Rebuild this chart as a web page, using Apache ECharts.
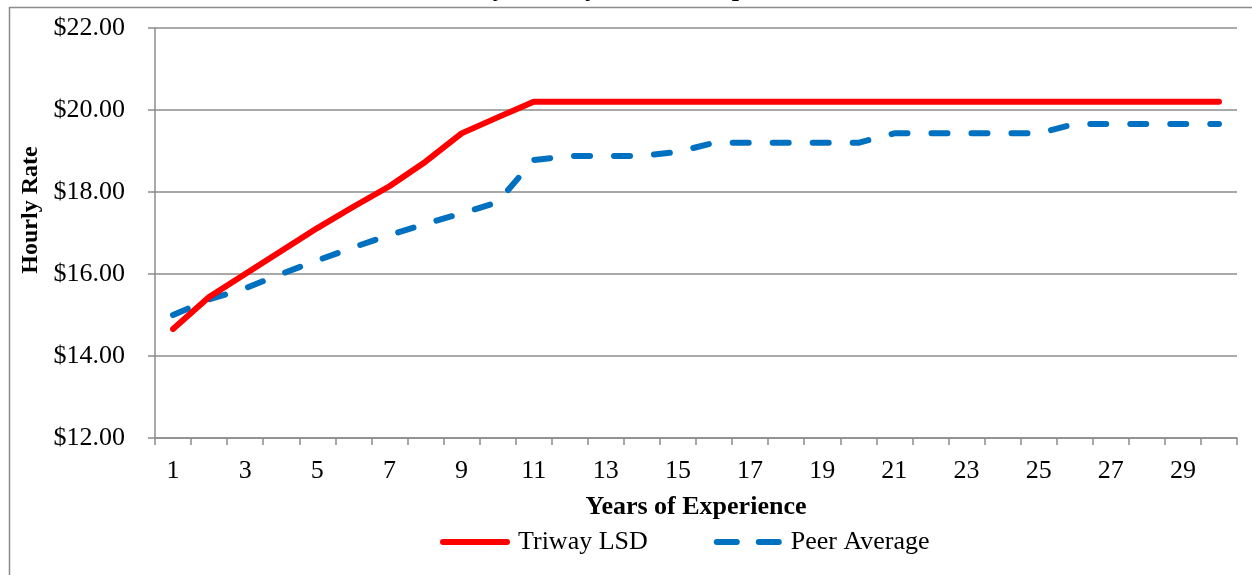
<!DOCTYPE html>
<html>
<head>
<meta charset="utf-8">
<script src="https://cdn.jsdelivr.net/npm/echarts@6/dist/echarts.min.js"></script>
<style>
html,body{margin:0;padding:0;background:#fff;}
#chart{width:1252px;height:575px;}
</style>
</head>
<body>
<div id="chart"></div>
<script>
var titleText = 'Hourly Rate by Years of Experience';
var years = ['1','2','3','4','5','6','7','8','9','10','11','12','13','14','15','16','17','18','19','20','21','22','23','24','25','26','27','28','29','30'];
var triwayLSD = [14.66,15.44,16.00,16.56,17.12,17.64,18.14,18.74,19.43,19.82,20.20,20.20,20.20,20.20,20.20,20.20,20.20,20.20,20.20,20.20,20.20,20.20,20.20,20.20,20.20,20.20,20.20,20.20,20.20,20.20];
var peerAverage = [15.00,15.38,15.65,16.00,16.33,16.65,16.95,17.22,17.48,17.75,18.78,18.88,18.88,18.88,18.98,19.20,19.20,19.20,19.20,19.20,19.43,19.43,19.43,19.43,19.43,19.66,19.66,19.66,19.66,19.66];
var yMin = 12, yMax = 22, yStep = 2;

var FONT = '"Liberation Serif", "Times New Roman", serif';
var GRAY = '#8c8c8c';
var chart = echarts.init(document.getElementById('chart'));
chart.setOption({
  animation: false,
  backgroundColor: '#fff',
  title: {
    text: titleText,
    left: 'center',
    top: -29,
    textStyle: {fontFamily: FONT, fontSize: 26, fontWeight: 'bold', color: '#000'}
  },
  graphic: [{
    type: 'rect',
    left: 7, top: 5, z: 100,
    shape: {width: 1300, height: 620},
    style: {fill: 'none', stroke: GRAY, lineWidth: 1.5}
  }],
  grid: {left: 155, right: 15, top: 28, bottom: 137, containLabel: false},
  legend: {
    left: 435, top: 524,
    itemWidth: 70, itemHeight: 6, itemGap: 66,
    textStyle: {fontFamily: FONT, fontSize: 26, color: '#000', padding: [0, 0, 0, 3]},
    data: [
      {name: 'Triway LSD', icon: 'path://M3,0h64a3,3 0 0 1 0,6h-64a3,3 0 0 1 0,-6z'},
      {name: 'Peer Average', icon: 'path://M3,0h20a3,3 0 0 1 0,6h-20a3,3 0 0 1 0,-6z M45,0h20a3,3 0 0 1 0,6h-20a3,3 0 0 1 0,-6z'}
    ]
  },
  xAxis: {
    type: 'category',
    data: years,
    boundaryGap: true,
    name: 'Years of Experience',
    nameLocation: 'middle',
    nameGap: 56,
    nameTextStyle: {fontFamily: FONT, fontSize: 26, fontWeight: 'bold', color: '#000'},
    axisLine: {lineStyle: {color: GRAY, width: 1.5}},
    axisTick: {show: true, interval: 0, length: 7, inside: false, lineStyle: {color: GRAY, width: 1.5}},
    axisLabel: {interval: 1, margin: 20, fontFamily: FONT, fontSize: 26, color: '#000'},
    splitLine: {show: false}
  },
  yAxis: {
    type: 'value',
    min: yMin, max: yMax, interval: yStep,
    name: 'Hourly Rate',
    nameLocation: 'middle',
    nameGap: 112,
    nameRotate: 90,
    nameTextStyle: {fontFamily: FONT, fontSize: 24, fontWeight: 'bold', color: '#000', padding: [0, 0, 0, 46]},
    axisLine: {show: true, lineStyle: {color: GRAY, width: 1.5}},
    axisTick: {show: true, length: 7, lineStyle: {color: GRAY, width: 1.5}},
    axisLabel: {margin: 30, fontFamily: FONT, fontSize: 26, color: '#000', formatter: function (v) { return '$' + v.toFixed(2); }},
    splitLine: {show: true, lineStyle: {color: GRAY, width: 1.5}}
  },
  series: [{
    name: 'Triway LSD',
    type: 'line',
    data: triwayLSD,
    symbol: 'none',
    lineStyle: {color: '#ff0000', width: 6, cap: 'round', join: 'round'},
    itemStyle: {color: '#ff0000'},
    z: 3
  }, {
    name: 'Peer Average',
    type: 'line',
    data: peerAverage,
    symbol: 'none',
    lineStyle: {color: '#0070c0', width: 6, type: [16, 24], cap: 'round', join: 'round'},
    itemStyle: {color: '#0070c0'},
    z: 2
  }]
});
</script>
</body>
</html>
